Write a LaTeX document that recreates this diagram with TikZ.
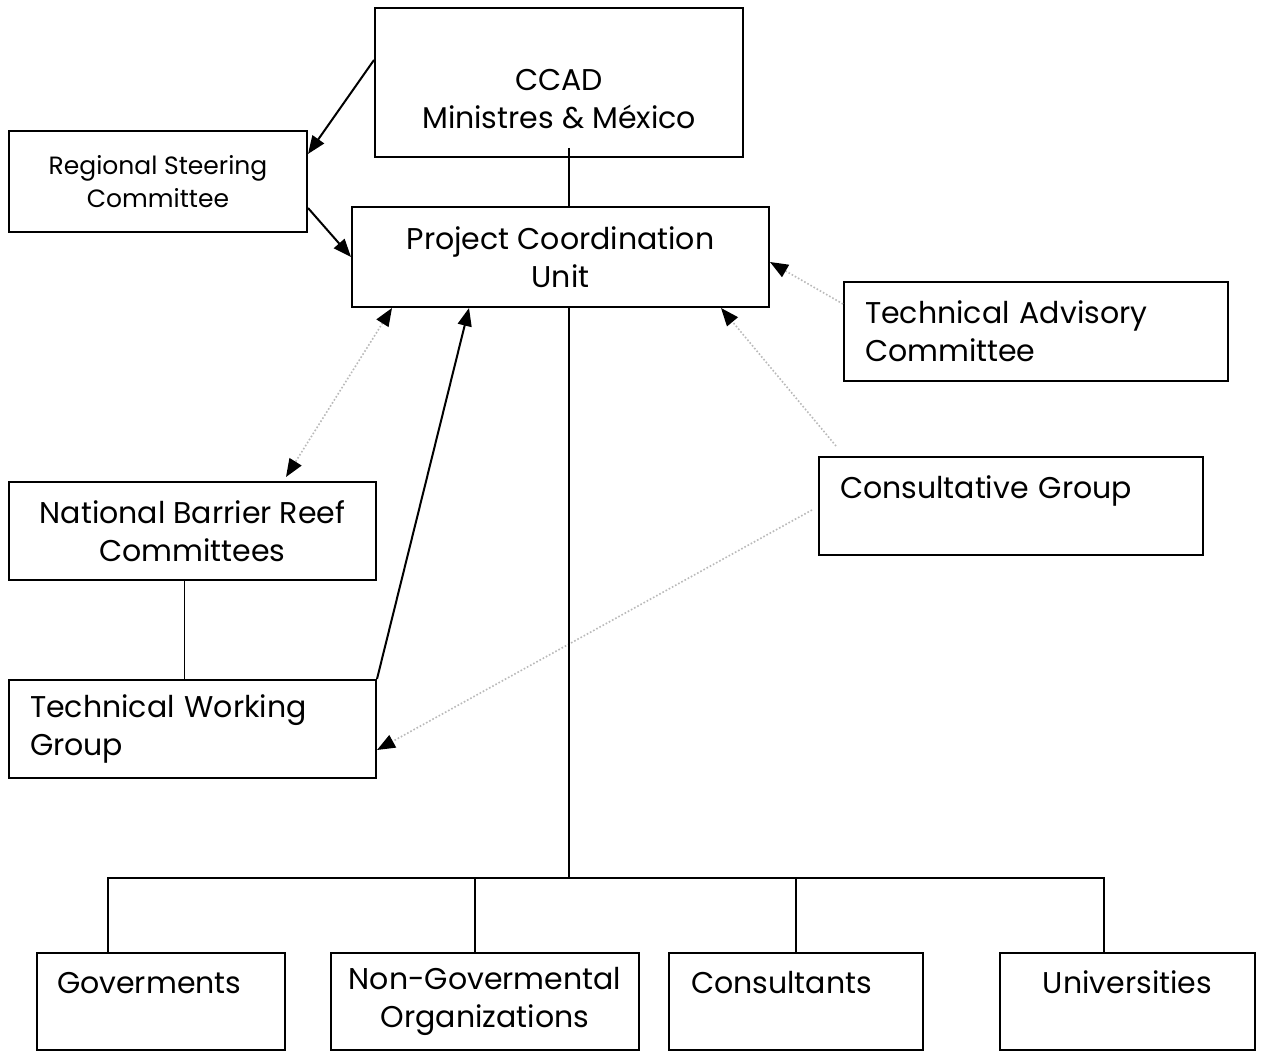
\documentclass[tikz,border=0pt]{standalone}
\usepackage{fontspec}
\setmainfont{Poppins}
\usetikzlibrary{positioning}
\usetikzlibrary{arrows.meta}

\begin{document}
\begin{tikzpicture}[x=0.5pt,y=-0.5pt]

    \tikzset{
        blk/.tip={Triangle[length=9pt,width=7pt,color=black]},
        unit/.style={
            draw,
            rectangle,
            line width=1pt,
            font=\fontsize{15}{19}\selectfont,
            align=center,
            inner sep=0pt
        },
        leftunit/.style={
            unit,
            align=left,
            text width=#1
        },
        link/.style={-blk, line width=1pt},
        advice/.style={densely dotted, gray!55, line width=0.8pt},
        tree/.style={line width=0.7pt}
    }
    \useasboundingbox (0,0) rectangle (1263,1052);

    % top of the chart
    \node[unit, minimum width=184pt, minimum height=74.5pt] (ccad) at (559,82.5)
        {\mbox{}\\[8pt]CCAD\\Ministres \& México};
    \node[unit, minimum width=149pt, minimum height=50.5pt,
        font=\fontsize{12.5}{16.5}\selectfont] (rsc) at (158,181.5)
        {Regional Steering\\Committee};
    \node[unit, minimum width=208.5pt, minimum height=50pt] (pcu) at (560.5,257)
        {Project Coordination\\Unit};
    \node[leftunit=171pt, minimum width=192pt, minimum height=49.5pt] (tac) at (1036,331.5)
        {Technical Advisory\\Committee};

    % middle
    \node[unit, minimum width=183.5pt, minimum height=49pt] (nbrc) at (192.5,531)
        {National Barrier Reef\\Committees};
    \node[leftunit=171pt, minimum width=192pt, minimum height=49pt] (cg) at (1011,506)
        {Consultative Group\\\mbox{}};
    \node[leftunit=162.5pt, minimum width=183.5pt, minimum height=49pt] (twg) at (192.5,729)
        {Technical Working\\Group};

    % bottom row
    \node[leftunit=104pt, minimum width=124pt, minimum height=48.5pt] (gov) at (161,1001.5)
        {Goverments\\\mbox{}};
    \node[unit, minimum width=154pt, minimum height=48.5pt] (ngo) at (485,1001.5)
        {Non-Govermental\\Organizations};
    \node[leftunit=105pt, minimum width=127pt, minimum height=48.5pt] (cons) at (796,1001.5)
        {Consultants\\\mbox{}};
    \node[unit, minimum width=127.5pt, minimum height=48.5pt] (univ) at (1127.5,1001.5)
        {Universities\\\mbox{}};

    \coordinate (bus) at (569,878);

    \draw[tree] ([xshift=5pt,yshift=5pt]ccad.south) -- ([xshift=4.25pt]pcu.north);
    \draw[link] ([yshift=11.25pt]ccad.west) -- ([yshift=-12pt]rsc.north east);
    \draw[link] ([yshift=12.5pt]rsc.south east) -- (pcu.west);
    \draw[advice, -blk] ([yshift=-11.5pt]tac.north west) -- ([yshift=-2.5pt]pcu.east);
    \draw[advice, -blk] ([xshift=9pt,yshift=5pt]cg.north west) -- ([xshift=-24.5pt]pcu.south east);
    \draw[advice, blk-blk] ([xshift=20.5pt]pcu.south west)
        -- ([xshift=-45.5pt,yshift=2pt]nbrc.north east);
    \draw[link] (twg.north east) -- ([xshift=59pt]pcu.south west);
    \draw[tree] ([xshift=-4pt]nbrc.south) -- ([xshift=-4pt]twg.north);
    \draw[advice, -blk] ([xshift=-3pt,yshift=-2pt]cg.west) -- ([yshift=-10.5pt]twg.east);

    % tree to the partners
    \draw[tree] ([xshift=4.25pt]pcu.south) -- (bus);
    \draw[tree] ([xshift=-26.5pt]gov.north) |- (bus) -| ([xshift=-11.75pt]univ.north);
    \draw[tree] ([xshift=-5pt]ngo.north) -- ([xshift=-5pt]ngo.north |- bus);
    \draw[tree] (cons.north) -- (cons.north |- bus);

\end{tikzpicture}
\end{document}
